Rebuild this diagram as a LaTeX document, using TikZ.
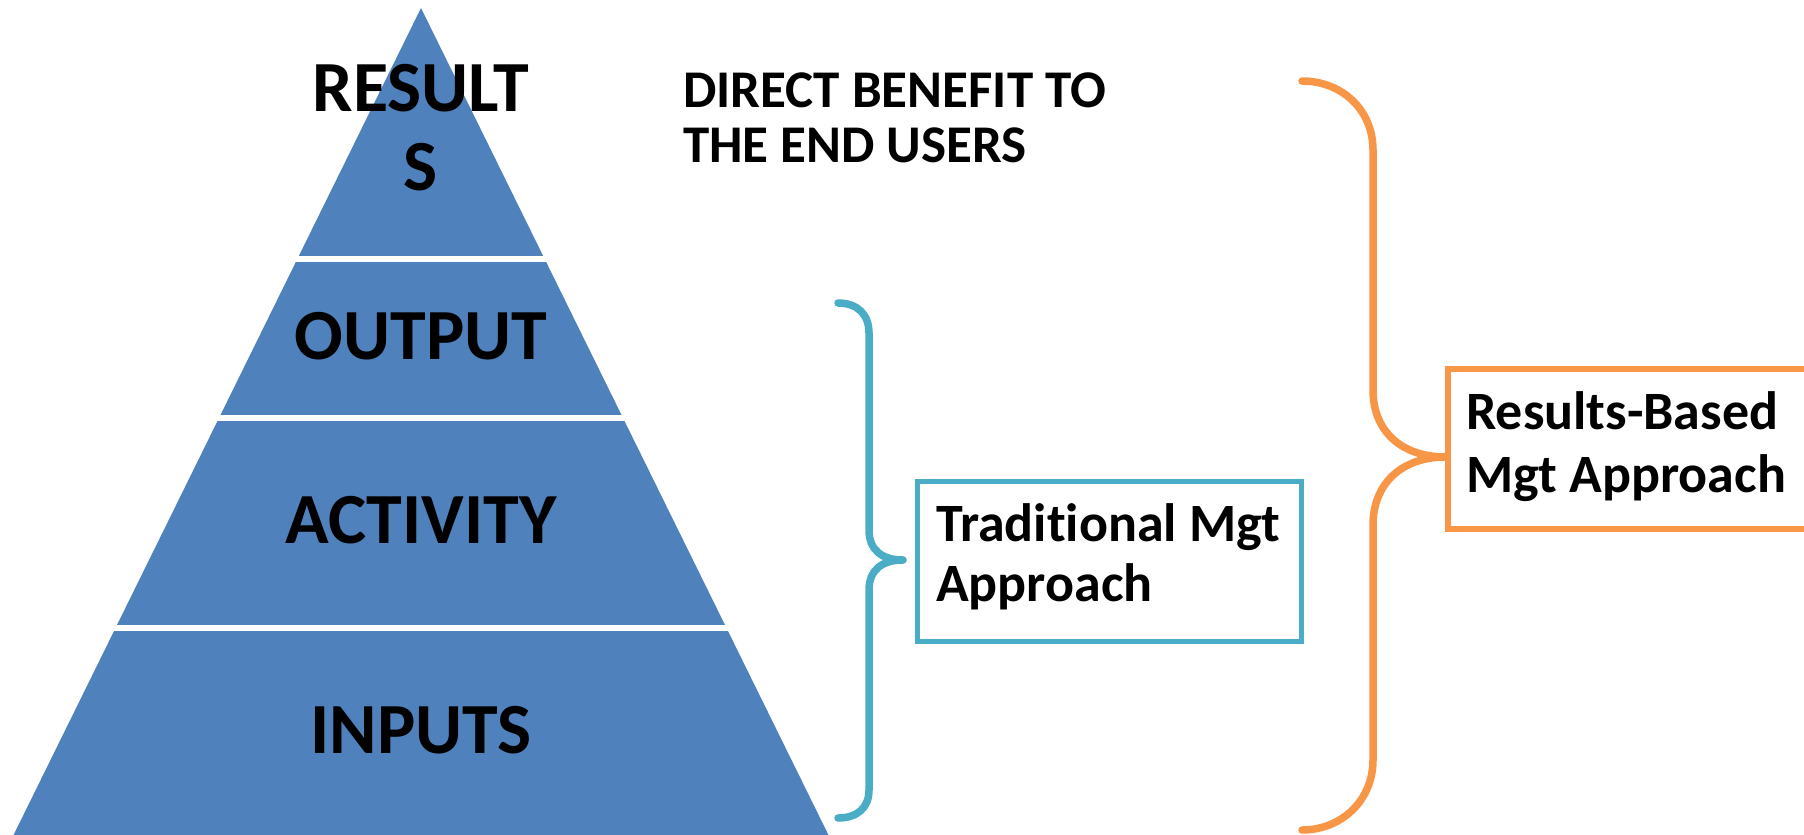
\documentclass[tikz,border=0pt]{standalone}
\usepackage{fontspec}
\setmainfont{Carlito}[Ligatures={NoCommon}]
\definecolor{pyrblue}{HTML}{4F81BD}
\definecolor{aqua}{HTML}{4BACC6}
\definecolor{orng}{HTML}{F79646}
\begin{document}
\begin{tikzpicture}[x=1pt,y=-1pt,
  pyrlabel/.style={inner sep=0pt,anchor=base,font=\fontsize{72}{80}\selectfont\bfseries},
  notelabel/.style={inner sep=0pt,anchor=base west,font=\fontsize{53}{58}\selectfont\bfseries},
  boxlabel/.style={inner sep=0pt,anchor=base west,font=\fontsize{54}{60}\selectfont\bfseries},
  sepline/.style={white,line width=6.5pt},
  bluebrace/.style={aqua,line width=7.5pt,line cap=round,line join=round},
  orangebrace/.style={orng,line width=7.5pt,line cap=round,line join=round},
  bluebox/.style={draw=aqua,line width=5pt,rectangle,inner sep=0pt,minimum width=384pt,minimum height=160pt},
  orangebox/.style={draw=orng,line width=6pt,rectangle,inner sep=0pt,minimum width=400pt,minimum height=160pt}]
\useasboundingbox (0,0) rectangle (1804,835);
\clip (0,0) rectangle (1804,835);
% pyramid
\coordinate (apex) at (421,8);
\coordinate (bl) at (8.6,845);
\coordinate (br) at (833.4,845);
\fill[pyrblue] (apex) -- (br) -- (bl) -- cycle;
\coordinate (s1l) at (250,259); \coordinate (s1r) at (600,259);
\coordinate (s2l) at (150,418); \coordinate (s2r) at (700,418);
\coordinate (s3l) at (50,628);  \coordinate (s3r) at (800,628);
\draw[sepline] (s1l) -- (s1r);
\draw[sepline] (s2l) -- (s2r);
\draw[sepline] (s3l) -- (s3r);
\node[pyrlabel] (res1) at (421,111) {RESULT};
\node[pyrlabel] (res2) at (421,190) {S};
\node[pyrlabel] (out) at (421,359) {OUTPUT};
\node[pyrlabel] (act) at (421,543) {ACTIVITY};
\node[pyrlabel] (inp) at (421,753) {INPUTS};
% note
\node[notelabel] (dir1) at (683,107) {DIRECT BENEFIT TO};
\node[notelabel] (dir2) at (683,162) {THE END USERS};
% boxes
\node[bluebox] (trad) at (1109,561.5) {};
\node[boxlabel] (trad1) at (936,541.5) {Traditional Mgt};
\node[boxlabel] (trad2) at (936,601.5) {Approach};
\node[orangebox,anchor=west] (rbm) at (1445,449) {};
\node[boxlabel] (rbm1) at (1466,429) {Results-Based};
\node[boxlabel] (rbm2) at (1466,492) {Mgt Approach};
% blue brace
\coordinate (bbt) at (838,303);
\coordinate (bbtip) at (903,560);
\coordinate (bbb) at (838,818);
\draw[bluebrace] (bbt) .. controls (857,303) and (869,314) .. (869,333)
  -- (869,530) .. controls (869,550) and (882,560) .. (bbtip)
  .. controls (882,560) and (869,570) .. (869,590)
  -- (869,790) .. controls (869,808) and (857,818) .. (bbb);
% orange brace
\coordinate (obt) at (1302,81);
\coordinate (obtip) at (1446,457);
\coordinate (obb) at (1302,830);
\draw[orangebrace] (obt) .. controls (1342,81) and (1373,110) .. (1373,150)
  -- (1373,390) .. controls (1373,430) and (1400,457) .. (obtip)
  .. controls (1400,457) and (1373,485) .. (1373,525)
  -- (1373,760) .. controls (1373,800) and (1342,830) .. (obb);
\end{tikzpicture}
\end{document}
